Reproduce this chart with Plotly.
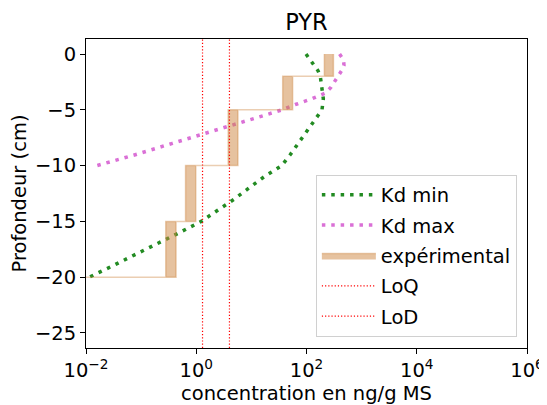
import plotly.graph_objects as go

# Kd min model profile (depth in cm, concentration in ng/g MS)
kd_min_depth = [0, -0.5, -1, -1.5, -2, -3, -4, -5, -6, -7, -8, -9, -10,
                -11, -12, -13, -14, -15, -16, -17, -18, -19, -20]
kd_min_conc = [98, 117, 141, 162, 178, 193, 202, 191, 138, 100, 72, 51, 35.5,
               17, 9.1, 4.9, 2.45, 1.23, 0.50, 0.19, 0.076, 0.030, 0.0115]

# Kd max model profile
kd_max_depth = [0, -0.5, -1, -1.5, -2, -2.5, -3, -3.5, -4, -4.5, -5, -5.5,
                -6, -7, -8, -9, -10]
kd_max_conc = [398, 468, 479, 432, 372, 316, 275, 219, 126, 65, 36, 17,
               8.1, 1.74, 0.37, 0.081, 0.0158]

# experimental layers (step, post): value at depth holds down to next depth
exp_depth = [0, -2, -5, -10, -15, -20]
exp_min = [211, 37, 3.8, 0.64, 0.28, 0.001]
exp_max = [308, 56, 5.7, 0.98, 0.43, 0.001]

loq = 1.3
lod = 4.0

x_tickvals = [1e-2, 1e0, 1e2, 1e4, 1e6]
x_ticktext = ["10<sup>−2</sup>", "10<sup>0</sup>", "10<sup>2</sup>",
              "10<sup>4</sup>", "10<sup>6</sup>"]

FONT = "DejaVu Sans"
FS = 19.5
# the page body keeps its default 8px margin, so the figure is drawn 8px in
W, H = 539, 397


def step_polygon(depth, lo, hi):
    xs, ys = [], []
    n = len(depth)
    for i in range(n - 1):
        xs += [hi[i], hi[i]]
        ys += [depth[i], depth[i + 1]]
    xs.append(hi[-1])
    ys.append(depth[-1])
    xs.append(lo[-1])
    ys.append(depth[-1])
    for i in range(n - 2, -1, -1):
        xs += [lo[i], lo[i]]
        ys += [depth[i + 1], depth[i]]
    return xs, ys


fig = go.Figure()

fig.add_trace(go.Scatter(
    x=kd_min_conc, y=kd_min_depth, mode="lines", name="Kd min",
    line=dict(color="rgb(34,139,34)", width=3.5, dash="3.5px,5.9px"),
    legendrank=1, legendgroup="a",
))
fig.add_trace(go.Scatter(
    x=kd_max_conc, y=kd_max_depth, mode="lines", name="Kd max",
    line=dict(color="rgb(218,112,214)", width=3.5, dash="3.5px,5.9px"),
    legendrank=2, legendgroup="b",
))

px, py = step_polygon(exp_depth, exp_min, exp_max)
fig.add_trace(go.Scatter(
    x=px, y=py, mode="lines", fill="toself", name="expérimental",
    fillcolor="rgba(205,133,63,0.5)",
    line=dict(color="rgba(205,133,63,0.4)", width=1.5),
    legendrank=3, legendgroup="c",
))

for val, name, rank in [(loq, "LoQ", 4), (lod, "LoD", 5)]:
    fig.add_shape(
        type="line", xref="x", yref="y domain", x0=val, x1=val, y0=0, y1=1,
        line=dict(color="red", width=1.2, dash="1.2px,2px"),
        showlegend=True, name=name, legendrank=rank, legendgroup=name,
    )

axis_common = dict(
    showline=True, linecolor="black", linewidth=1, mirror=True,
    ticks="outside", ticklen=5, tickwidth=1, tickcolor="black",
    showgrid=False, zeroline=False, automargin=False,
    tickfont=dict(family=FONT, size=FS, color="black"),
)

fig.update_layout(
    width=W, height=H,
    margin=dict(l=78, r=20, t=31, b=57),
    paper_bgcolor="white", plot_bgcolor="white",
    font=dict(family=FONT, size=FS, color="black"),
    title=dict(text="PYR", x=0.5, xref="paper", y=1 - 14 / H,
               yref="container", yanchor="middle",
               font=dict(family=FONT, size=22.5, color="black")),
    xaxis=dict(type="log", range=[-2, 6], tickvals=x_tickvals,
               ticktext=x_ticktext,
               title=dict(text="concentration en ng/g MS", standoff=4,
                          font=dict(family=FONT, size=FS)),
               **axis_common),
    yaxis=dict(range=[-26.35, 1.35], dtick=5, tick0=0,
               title=dict(text="Profondeur (cm)", standoff=8,
                          font=dict(family=FONT, size=FS)),
               **axis_common),
    legend=dict(x=0.977, y=0.037, xanchor="right", yanchor="bottom",
                bgcolor="white", bordercolor="#d0d0d0", borderwidth=1,
                font=dict(family=FONT, size=FS), itemwidth=54,
                tracegroupgap=2),
    showlegend=True,
)

fig.write_html("out.html")
